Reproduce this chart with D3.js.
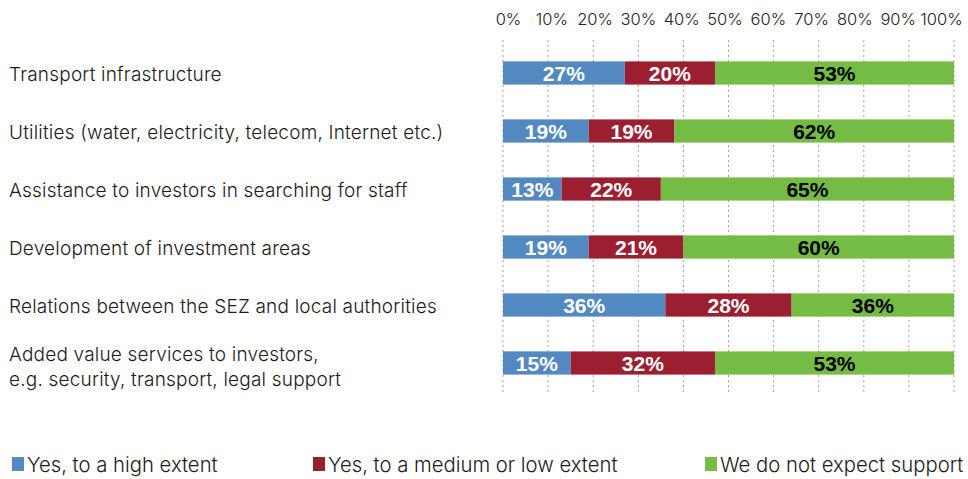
<!DOCTYPE html>
<html>
<head>
<meta charset="utf-8">
<script src="https://cdn.jsdelivr.net/npm/d3@7"></script>
<style>
  html, body { margin: 0; padding: 0; background: #fff; }
  svg { display: block; }
</style>
</head>
<body>
<svg id="chart" width="968" height="479"></svg>
<script>
// Survey: expected support areas (shares of respondents, %)
const categories = [
  "Transport infrastructure",
  "Utilities (water, electricity, telecom, Internet etc.)",
  "Assistance to investors in searching for staff",
  "Development of investment areas",
  "Relations between the SEZ and local authorities",
  "Added value services to investors,\ne.g. security, transport, legal support"
];
const seriesNames = ["Yes, to a high extent", "Yes, to a medium or low extent", "We do not expect support"];
const highExtent   = [27, 19, 13, 19, 36, 15];
const mediumLow    = [20, 19, 22, 21, 28, 32];
const noSupport    = [53, 62, 65, 60, 36, 53];
const tickValues   = [0, 10, 20, 30, 40, 50, 60, 70, 80, 90, 100];

const colors = ["#5289c1", "#9b1f31", "#74bc43"];
const labelColors = ["#ffffff", "#ffffff", "#000000"];

const svg = d3.select("#chart");
const lightFont = "Inter, 'Open Sans', Roboto, sans-serif";

const x = d3.scaleLinear().domain([0, 100]).range([503, 954]);
// tick labels sit on a slightly narrower span than the gridlines
const xLabel = d3.scaleLinear().domain([0, 100]).range([508, 941]);
const y = d3.scaleBand().domain(categories).range([44, 392]).paddingInner(0.6).paddingOuter(0.3);

const rows = categories.map((c, i) => ({ cat: c, values: [highExtent[i], mediumLow[i], noSupport[i]] }));
const stack = d3.stack().keys([0, 1, 2]).value((d, k) => d.values[k]);
const layers = stack(rows);

// dashed vertical gridlines
svg.append("g").selectAll("line")
  .data(tickValues).join("line")
  .attr("x1", d => x(d)).attr("x2", d => x(d))
  .attr("y1", 40).attr("y2", 394)
  .attr("stroke", "#a0a0a0").attr("stroke-width", 1)
  .attr("stroke-dasharray", "2,3");

// top axis labels
const axis = d3.axisTop(xLabel).tickValues(tickValues).tickFormat(d => d + "%").tickSize(0).tickPadding(0);
const ax = svg.append("g").attr("transform", "translate(0,25)").call(axis);
ax.select(".domain").remove();
ax.selectAll("text")
  .attr("font-family", lightFont).attr("font-weight", 300)
  .attr("font-size", 16.5).attr("fill", "#222");

// stacked bars
const g = svg.append("g");
layers.forEach((layer, k) => {
  g.selectAll(null).data(layer).join("rect")
    .attr("x", d => x(d[0]))
    .attr("y", d => y(d.data.cat))
    .attr("width", d => x(d[1]) - x(d[0]))
    .attr("height", y.bandwidth())
    .attr("fill", colors[k]);
  g.selectAll(null).data(layer).join("text")
    .attr("x", d => (x(d[0]) + x(d[1])) / 2)
    .attr("y", d => y(d.data.cat) + y.bandwidth() / 2)
    .attr("dy", "0.36em")
    .attr("text-anchor", "middle")
    .attr("font-family", "'Liberation Sans', Arial, sans-serif")
    .attr("font-weight", "bold")
    .attr("font-size", 21)
    .attr("fill", labelColors[k])
    .text(d => (d[1] - d[0]) + "%");
});

// category labels
const catG = svg.append("g");
categories.forEach(c => {
  const lines = c.split("\n");
  const cy = y(c) + y.bandwidth() / 2 + (lines.length > 1 ? 4 : 1);
  const t = catG.append("text")
    .attr("x", 9)
    .attr("font-family", lightFont).attr("font-weight", 300)
    .attr("font-size", 19).attr("letter-spacing", 0.2).attr("fill", "#1a1a1a");
  lines.forEach((ln, j) => {
    t.append("tspan")
      .attr("x", 9)
      .attr("y", cy + (j - (lines.length - 1) / 2) * 25)
      .attr("dy", "0.35em")
      .text(ln);
  });
});

// legend
const legendX = [12, 313, 705];
const leg = svg.append("g");
seriesNames.forEach((name, k) => {
  leg.append("rect")
    .attr("x", legendX[k]).attr("y", 457)
    .attr("width", 12).attr("height", 14)
    .attr("fill", colors[k]);
  leg.append("text")
    .attr("x", legendX[k] + 15).attr("y", 464.5)
    .attr("dy", "0.35em")
    .attr("font-family", lightFont).attr("font-weight", 300)
    .attr("font-size", 20.3).attr("fill", "#1a1a1a")
    .text(name);
});
</script>
</body>
</html>
